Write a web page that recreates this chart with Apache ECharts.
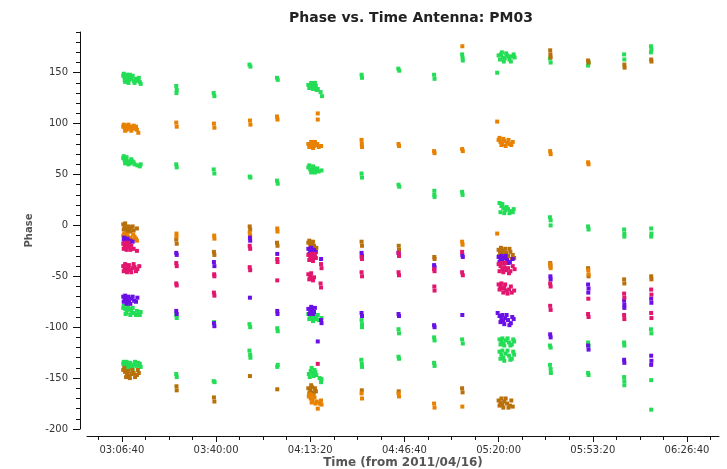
<!DOCTYPE html>
<html>
<head>
<meta charset="utf-8">
<title>Phase vs. Time Antenna: PM03</title>
<script src="https://cdn.jsdelivr.net/npm/echarts@6/dist/echarts.min.js"></script>
<style>
  html, body { margin: 0; padding: 0; background: #fff; }
  #chart { width: 727px; height: 469px; }
</style>
</head>
<body>
<div id="chart"></div>
<script>
// Time is in seconds from 00:00:00 on 2011/04/16; phase in degrees.
const timeMin = 10460;
const timeMax = 23880;
const timeMajorTicks = [11200, 13200, 15200, 17200, 19200, 21200, 23200];
const timeMinorTicks = [10700, 11700, 12200, 12700, 13700, 14200, 14700, 15700, 16200, 16700,
  17700, 18200, 18700, 19700, 20200, 20700, 21700, 22200, 22700, 23700];
const phaseMin = -200;
const phaseMax = 190;
const phaseMajorTicks = [-200, -150, -100, -50, 0, 50, 100, 150];
const phaseMinorTicks = [-190, -180, -170, -160, -140, -130, -120, -110, -90, -80, -70, -60,
  -40, -30, -20, -10, 10, 20, 30, 40, 60, 70, 80, 90, 110, 120, 130, 140, 160, 170, 180, 190];

// [time, phase] samples per correlation colour
const greenPoints = [
  [11230,147],[11260,146],[11290,144],[11320,145],[11350,143],[11380,146],[11410,144],[11450,142],[11500,144],[11540,142],[11580,141],[11260,143],[11320,148],
  [11240,149],[11270,141],[11300,147],[11340,140],[11370,148],[11430,147],[11470,140],[11560,145],[11600,139],
  [11230,66],[11260,64],[11290,65],[11320,62],[11350,63],[11380,61],[11420,63],[11470,60],[11530,59],[11580,58],
  [11240,68],[11270,61],[11300,67],[11340,60],[11400,65],[11450,62],[11600,60],
  [11230,-81],[11270,-82],[11310,-83],[11350,-82],[11400,-84],[11450,-86],[11520,-84],[11580,-88],[11300,-86],
  [11240,-79],[11280,-87],[11330,-80],[11380,-88],[11430,-81],[11500,-88],[11600,-85],
  [11230,-136],[11270,-137],[11310,-138],[11350,-136],[11400,-139],[11450,-137],[11520,-138],[11580,-136],[11280,-140],
  [11240,-134],[11300,-134],[11340,-140],[11380,-135],[11430,-141],[11480,-134],[11550,-135],[11600,-139],
  [12355,137],[12365,133],[12360,130],[12355,60],[12365,57],[12355,-88],[12365,-91],[12355,-146],[12365,-149],
  [13150,130],[13165,127],[13150,55],[13165,51],[13160,-95],[13150,-153],[13170,-154],
  [13910,158],[13930,156],[13915,48],[13930,47],[13910,-97],[13925,-100],[13910,-123],[13925,-127],[13930,-130],
  [14495,145],[14510,143],[14495,44],[14510,41],[14500,-101],[14510,-104],[14500,-139],[14510,-137],
  [15160,138],[15200,137],[15240,139],[15280,136],[15320,137],[15360,134],[15420,131],[15450,127],
  [15180,135],[15220,140],[15260,134],[15300,140],[15340,133],
  [15160,57],[15200,55],[15240,54],[15280,56],[15320,54],[15380,53],[15440,54],
  [15180,59],[15220,52],[15260,58],[15300,52],[15350,56],
  [15160,-87],[15200,-89],[15240,-91],[15280,-88],[15330,-90],[15380,-93],[15440,-91],
  [15180,-92],[15220,-86],[15260,-94],[15300,-92],[15360,-88],
  [15170,-146],[15210,-143],[15250,-145],[15290,-142],[15330,-147],[15400,-150],[15430,-154],
  [15190,-149],[15230,-140],[15270,-148],[15310,-144],[15440,-151],
  [16290,148],[16300,145],[16290,51],[16300,47],[16290,-93],[16300,-97],[16300,-100],[16285,-132],[16295,-136],[16300,-139],
  [17070,154],[17090,152],[17075,40],[17090,38],[17075,-102],[17085,-106],[17075,-129],[17085,-131],
  [17830,148],[17840,144],[17835,34],[17835,30],[17840,28],[17830,-110],[17840,-113],[17830,-135],[17840,-138],
  [18425,168],[18435,165],[18440,162],[18425,33],[18435,30],[18425,-112],[18440,-116],
  [19170,150],[19200,167],[19250,168],[19290,165],[19330,164],[19380,167],[19430,163],[19480,166],[19520,168],
  [19230,163],[19270,170],[19310,161],[19360,169],[19410,166],[19460,161],[19540,165],
  [19220,22],[19260,19],[19300,17],[19340,15],[19400,16],[19460,14],[19520,16],
  [19240,13],[19280,21],[19320,12],[19370,18],[19430,12],[19500,13],
  [19220,-112],[19260,-114],[19300,-116],[19350,-113],[19420,-115],[19480,-117],[19530,-114],
  [19240,-117],[19280,-111],[19320,-118],[19390,-111],[19450,-118],[19510,-112],
  [19220,-124],[19260,-127],[19300,-130],[19350,-126],[19420,-128],[19480,-131],[19530,-127],
  [19240,-131],[19280,-123],[19320,-133],[19390,-123],[19450,-132],[19510,-124],
  [20290,164],[20305,160],[20290,8],[20305,5],[20305,0],[20290,-118],[20305,-120],[20290,-137],[20305,-141],[20310,-145],
  [21100,157],[21110,160],[21100,-1],[21110,-4],[21100,-115],[21110,-118],[21100,-145],[21110,-147],
  [21865,168],[21870,163],[21865,-4],[21870,-8],[21870,-11],[21865,-115],[21870,-118],[21865,-149],[21870,-153],[21870,-157],
  [22435,176],[22445,173],[22435,170],[22440,-3],[22445,-8],[22440,-11],[22435,-102],[22445,-106],[22440,-152],[22440,-181]
];
const orangePoints = [
  [11230,97],[11260,96],[11290,98],[11320,95],[11350,97],[11380,96],[11420,97],[11470,95],[11520,94],[11550,91],
  [11240,99],[11270,93],[11300,94],[11340,99],[11400,93],[11450,98],[11500,97],
  [11230,-10],[11260,-12],[11300,-11],[11340,-13],[11380,-12],[11420,-14],[11470,-11],[11520,-15],
  [11250,-8],[11280,-15],[11320,-9],[11360,-16],[11440,-9],[11500,-13],
  [12355,101],[12365,97],[12360,-8],[12360,-11],
  [13155,100],[13165,96],[13160,-10],[13165,-13],
  [13920,103],[13930,99],[13915,-7],[13925,-10],
  [14495,107],[14505,104],[14500,-3],[14505,-6],
  [15360,110],[15360,104],[15160,80],[15200,79],[15240,81],[15280,78],[15320,79],[15380,77],[15430,78],
  [15180,77],[15220,82],[15260,76],[15300,82],[15350,80],
  [15170,-168],[15210,-170],[15250,-172],[15290,-169],[15340,-173],[15400,-175],[15430,-172],[15360,-180],
  [15190,-166],[15230,-174],[15270,-167],[15310,-175],[15440,-176],
  [16290,84],[16295,80],[16300,77],[16290,-165],[16300,-170],
  [17075,80],[17085,78],[17075,-165],[17085,-168],
  [17830,73],[17840,71],[17830,-175],[17840,-179],
  [18430,176],[18425,75],[18440,73],[18425,-16],[18435,-19],[18430,-178],
  [19170,102],[19200,84],[19240,82],[19280,80],[19320,83],[19380,81],[19440,80],[19500,82],[19170,-8],
  [19220,86],[19260,79],[19300,85],[19350,78],[19410,84],[19470,79],
  [20295,73],[20305,70],[20300,-38],[20305,-42],
  [21100,62],[21110,60],[21105,-44],[21110,-48]
];
const brownPoints = [
  [11230,1],[11260,-1],[11290,-3],[11320,-5],[11350,-4],[11400,-2],[11450,-5],[11520,-3],
  [11240,-4],[11270,2],[11300,-7],[11340,-1],[11380,-6],[11430,-1],
  [11230,-142],[11270,-144],[11310,-146],[11350,-148],[11400,-146],[11450,-145],[11520,-147],[11560,-145],
  [11250,-140],[11290,-149],[11330,-143],[11370,-150],[11420,-142],[11480,-149],[11540,-142],
  [12355,-14],[12365,-18],[12360,-158],[12365,-162],
  [13155,-26],[13165,-29],[13155,-169],[13165,-173],
  [13915,-1],[13925,-4],[13920,-148],
  [14495,-17],[14505,-20],[14500,-161],
  [15160,-17],[15200,-19],[15240,-18],[15280,-20],[15330,-22],
  [15180,-15],[15220,-22],[15260,-16],[15300,-23],
  [15160,-160],[15200,-162],[15240,-159],[15280,-164],[15320,-163],
  [15180,-165],[15220,-157],[15260,-166],[15300,-160],
  [16290,-16],[16300,-20],[16295,-162],
  [17080,-20],[17085,-24],[17080,-163],
  [17835,-31],[17840,-33],
  [18425,-160],[18435,-164],
  [19200,-24],[19230,-26],[19260,-28],[19290,-25],[19320,-29],[19360,-27],[19400,-30],[19450,-26],[19500,-29],[19530,-32],
  [19210,-30],[19250,-22],[19280,-33],[19340,-23],[19380,-33],[19430,-23],[19480,-33],
  [19200,-172],[19240,-174],[19280,-176],[19320,-173],[19380,-175],[19440,-177],[19500,-178],
  [19220,-177],[19260,-170],[19300,-179],[19350,-170],[19410,-179],[19470,-172],
  [20295,172],[20300,168],[20305,165],[20295,-37],[20300,-40],
  [21100,162],[21110,160],[21100,-42],[21110,-50],
  [21870,158],[21875,155],[21865,-53],[21870,-57],
  [22440,163],[22445,161],[22440,-50],[22445,-53]
];
const magentaPoints = [
  [11230,-18],[11260,-20],[11290,-22],[11320,-19],[11350,-21],[11400,-20],[11450,-23],[11520,-25],
  [11240,-23],[11270,-17],[11300,-24],[11340,-17],[11380,-24],
  [11230,-40],[11260,-42],[11290,-43],[11330,-41],[11370,-44],[11420,-42],[11470,-41],[11530,-43],[11570,-40],
  [11240,-45],[11270,-38],[11310,-46],[11350,-39],[11400,-46],[11450,-38],[11500,-45],
  [12355,-37],[12365,-40],[12355,-57],[12365,-59],
  [13160,-48],[13165,-50],[13155,-66],[13165,-69],
  [13915,-20],[13925,-23],[13915,-41],[13925,-44],
  [14500,-33],[14505,-36],[14500,-54],
  [15160,-29],[15200,-31],[15240,-33],[15280,-30],[15320,-32],[15430,-38],[15440,-42],
  [15180,-34],[15220,-28],[15260,-35],[15300,-28],
  [15160,-48],[15200,-50],[15240,-52],[15280,-51],[15420,-57],[15430,-61],[15360,-136],
  [15180,-53],[15220,-47],[15260,-54],
  [16290,-31],[16300,-33],[16290,-46],[16300,-50],
  [17075,-27],[17085,-30],[17075,-46],[17085,-49],
  [17830,-43],[17840,-45],[17835,-60],[17840,-64],
  [18425,-26],[18425,-46],[18440,-49],
  [19200,-38],[19240,-40],[19280,-43],[19320,-41],[19360,-44],[19400,-42],[19450,-45],[19500,-40],[19540,-43],
  [19220,-45],[19260,-37],[19300,-46],[19340,-37],[19420,-47],
  [19200,-58],[19240,-60],[19280,-62],[19320,-61],[19360,-64],[19420,-63],[19480,-66],[19530,-64],
  [19220,-63],[19260,-57],[19300,-66],[19340,-58],[19390,-67],[19460,-60],
  [20295,-57],[20305,-60],[20295,-79],[20305,-83],
  [21105,-72],[21100,-87],[21110,-90],
  [21865,-67],[21870,-71],[21865,-88],[21870,-92],
  [22440,-63],[22445,-68],[22440,-86],[22445,-91]
];
const purplePoints = [
  [11240,-14],[11270,-16],[11300,-15],[11340,-17],[11380,-15],[11430,-16],
  [11250,-12],[11320,-13],[11360,-18],
  [11230,-70],[11260,-72],[11290,-74],[11320,-73],[11350,-75],[11400,-72],[11460,-74],[11530,-71],
  [11240,-75],[11270,-69],[11300,-77],[11340,-70],[11380,-77],[11430,-70],[11500,-75],
  [12355,-27],[12365,-29],[12355,-84],[12365,-87],
  [13155,-36],[13165,-40],[13155,-96],[13165,-99],
  [13920,-12],[13925,-15],[13920,-71],
  [14500,-28],[14500,-84],[14505,-87],
  [15160,-23],[15200,-25],[15240,-27],[15280,-24],[15320,-26],[15430,-33],
  [15180,-28],[15220,-22],[15260,-29],
  [15160,-82],[15200,-84],[15240,-83],[15280,-85],[15430,-93],[15440,-96],[15360,-114],
  [15180,-87],[15220,-80],[15260,-87],[15300,-81],
  [16290,-27],[16300,-30],[16290,-86],[16300,-89],
  [17075,-27],[17085,-29],[17075,-87],[17085,-89],
  [17830,-39],[17840,-41],[17830,-98],[17840,-100],
  [18430,-29],[18440,-31],[18430,-88],
  [19200,-31],[19240,-33],[19280,-35],[19320,-32],[19380,-34],[19440,-36],[19500,-33],
  [19220,-36],[19260,-30],[19300,-37],[19350,-30],[19410,-37],
  [19180,-86],[19220,-89],[19260,-92],[19300,-94],[19340,-91],[19400,-93],[19460,-96],[19520,-92],
  [19240,-95],[19280,-88],[19320,-97],[19370,-88],[19430,-98],[19490,-90],
  [20300,-50],[20305,-53],[20295,-107],[20305,-110],
  [21100,-58],[21110,-62],[21105,-66],[21100,-118],[21110,-122],
  [21865,-74],[21870,-78],[21870,-81],[21865,-132],[21870,-135],
  [22440,-72],[22445,-76],[22440,-128],[22445,-133],[22440,-137]
];

function hms(sec) {
  const h = Math.floor(sec / 3600);
  const m = Math.floor((sec % 3600) / 60);
  const s = Math.round(sec % 60);
  const p = n => String(n).padStart(2, '0');
  return p(h) + ':' + p(m) + ':' + p(s);
}

const FONT = 'DejaVu Sans';
const axisColor = '#111';
const plotRect = { left: 87, right: 8, top: 32, bottom: 40, containLabel: false, outerBoundsMode: 'none' };

const scatter = (name, data, color) => ({
  name, type: 'scatter', data,
  xAxisIndex: 0, yAxisIndex: 0,
  symbol: 'rect', symbolSize: [4, 4],
  itemStyle: { color, opacity: 1 },
  silent: true, animation: false
});

const chart = echarts.init(document.getElementById('chart'), null, { renderer: 'canvas' });
chart.setOption({
  animation: false,
  backgroundColor: '#fff',
  title: {
    text: 'Phase vs. Time Antenna: PM03',
    left: 406, top: 6, textAlign: 'center',
    textStyle: { fontFamily: FONT, fontSize: 14, fontWeight: 'bold', color: '#222' }
  },
  // grid 0 holds the data and major ticks; grid 1 (same rect) only carries minor ticks
  grid: [Object.assign({}, plotRect), Object.assign({}, plotRect)],
  xAxis: [{
    gridIndex: 0, type: 'value', min: timeMin, max: timeMax, position: 'bottom', offset: 7,
    name: 'Time (from 2011/04/16)', nameLocation: 'middle', nameGap: 21, nameMoveOverlap: false,
    nameTextStyle: { fontFamily: FONT, fontSize: 12, fontWeight: 'bold', color: '#555' },
    axisLine: { show: true, onZero: false, lineStyle: { color: axisColor, width: 1 } },
    axisTick: { show: true, inside: false, length: 6, customValues: timeMajorTicks, lineStyle: { color: axisColor } },
    axisLabel: { customValues: timeMajorTicks, formatter: v => hms(v), fontFamily: FONT, fontSize: 10, color: '#333', margin: 9 },
    splitLine: { show: false }
  }, {
    gridIndex: 1, type: 'value', min: timeMin, max: timeMax, position: 'bottom', offset: 7,
    axisLine: { show: false, onZero: false },
    axisTick: { show: true, length: 4, customValues: timeMinorTicks, lineStyle: { color: axisColor } },
    axisLabel: { show: false },
    splitLine: { show: false }
  }],
  yAxis: [{
    gridIndex: 0, type: 'value', min: phaseMin, max: phaseMax, position: 'left', offset: 7,
    name: 'Phase', nameLocation: 'middle', nameGap: 46, nameRotate: 90, nameMoveOverlap: false,
    nameTextStyle: { fontFamily: FONT, fontSize: 10, fontWeight: 'bold', color: '#555' },
    axisLine: { show: true, onZero: false, lineStyle: { color: axisColor, width: 1 } },
    axisTick: { show: true, length: 7, customValues: phaseMajorTicks, lineStyle: { color: axisColor } },
    axisLabel: { customValues: phaseMajorTicks, fontFamily: FONT, fontSize: 10, color: '#333', margin: 12 },
    splitLine: { show: false }
  }, {
    gridIndex: 1, type: 'value', min: phaseMin, max: phaseMax, position: 'left', offset: 7,
    axisLine: { show: false, onZero: false },
    axisTick: { show: true, length: 4, customValues: phaseMinorTicks, lineStyle: { color: axisColor } },
    axisLabel: { show: false },
    splitLine: { show: false }
  }],
  series: [
    scatter('green', greenPoints, '#22dd55'),
    scatter('brown', brownPoints, '#b8700a'),
    scatter('orange', orangePoints, '#e88000'),
    scatter('purple', purplePoints, '#6a10e6'),
    scatter('magenta', magentaPoints, '#e2166e')
  ]
});
</script>
</body>
</html>
